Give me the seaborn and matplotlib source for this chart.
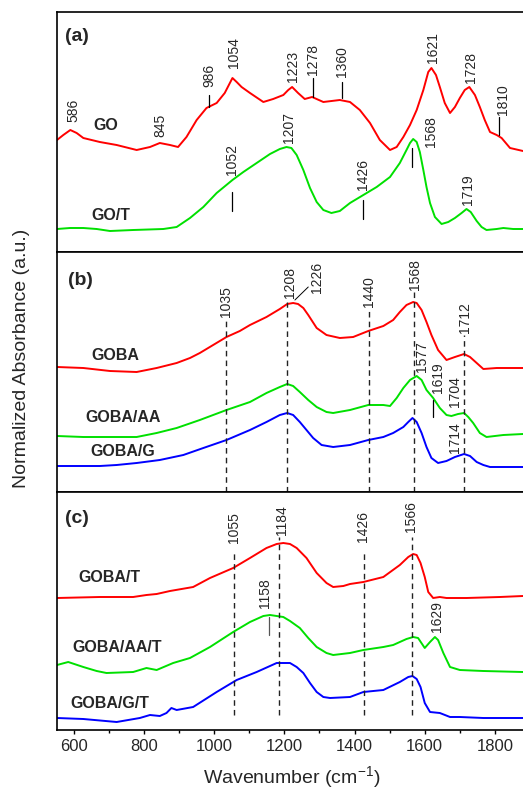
import matplotlib
matplotlib.use("Agg")
import matplotlib.pyplot as plt
import seaborn as sns
import pandas as pd

# ---------------- data (wavenumber, absorbance a.u., already stacked) ----------------
go_wn = [552, 570, 590, 608, 627, 674, 722, 779, 817, 845, 874, 897, 921, 950, 978, 1007, 1030, 1052,
         1064, 1078, 1102, 1140, 1168, 1197, 1211, 1222, 1239, 1258, 1279, 1311, 1358, 1387, 1415, 1444,
         1472, 1501, 1520, 1539, 1558, 1577, 1596, 1610, 1619, 1632, 1643, 1657, 1672, 1686, 1700, 1714,
         1727, 1743, 1757, 1771, 1786, 1805, 1819, 1843, 1880]
go_ab = [1.12, 1.17, 1.22, 1.19, 1.14, 1.10, 1.07, 1.02, 1.05, 1.09, 1.07, 1.05, 1.15, 1.32, 1.44, 1.49,
         1.59, 1.74, 1.70, 1.65, 1.59, 1.50, 1.53, 1.57, 1.62, 1.65, 1.59, 1.53, 1.55, 1.50, 1.52, 1.50,
         1.42, 1.29, 1.12, 1.02, 1.05, 1.15, 1.27, 1.42, 1.62, 1.80, 1.84, 1.77, 1.65, 1.49, 1.39, 1.45,
         1.54, 1.62, 1.65, 1.57, 1.45, 1.32, 1.20, 1.17, 1.14, 1.04, 1.01]

got_wn = [552, 589, 627, 665, 703, 769, 855, 893, 931, 969, 1007, 1052, 1083, 1121, 1159, 1187, 1206,
          1220, 1235, 1254, 1273, 1292, 1311, 1334, 1358, 1387, 1425, 1463, 1501, 1529, 1548, 1558, 1567,
          1577, 1586, 1596, 1605, 1615, 1629, 1648, 1667, 1686, 1705, 1719, 1731, 1748, 1762, 1776, 1805,
          1824, 1852, 1880]
got_ab = [0.23, 0.24, 0.24, 0.23, 0.21, 0.22, 0.23, 0.25, 0.34, 0.45, 0.59, 0.72, 0.80, 0.89, 0.98, 1.03,
          1.05, 1.04, 0.97, 0.82, 0.64, 0.50, 0.42, 0.39, 0.41, 0.49, 0.57, 0.65, 0.75, 0.89, 1.02, 1.09,
          1.13, 1.10, 1.00, 0.82, 0.65, 0.49, 0.35, 0.28, 0.30, 0.34, 0.39, 0.43, 0.40, 0.31, 0.25, 0.22,
          0.23, 0.24, 0.23, 0.23]

goba_wn = [552, 627, 703, 779, 836, 893, 931, 959, 997, 1035, 1073, 1102, 1149, 1187, 1208, 1225, 1239,
           1254, 1268, 1292, 1320, 1358, 1396, 1439, 1482, 1510, 1529, 1548, 1567, 1577, 1591, 1605, 1619,
           1638, 1662, 1686, 1712, 1729, 1748, 1767, 1805, 1843, 1880]
goba_ab = [1.25, 1.24, 1.21, 1.20, 1.24, 1.29, 1.34, 1.39, 1.47, 1.55, 1.61, 1.67, 1.75, 1.83, 1.88, 1.89,
           1.88, 1.84, 1.77, 1.64, 1.57, 1.54, 1.55, 1.61, 1.66, 1.72, 1.80, 1.87, 1.90, 1.89, 1.82, 1.70,
           1.57, 1.42, 1.32, 1.35, 1.38, 1.35, 1.29, 1.23, 1.24, 1.24, 1.24]

gobaaa_wn = [552, 627, 703, 779, 836, 893, 959, 1035, 1102, 1149, 1187, 1208, 1225, 1244, 1268, 1292,
             1320, 1339, 1387, 1439, 1482, 1501, 1520, 1539, 1558, 1577, 1591, 1605, 1624, 1643, 1662,
             1676, 1695, 1712, 1724, 1738, 1757, 1776, 1824, 1880]
gobaaa_ab = [0.56, 0.55, 0.55, 0.55, 0.59, 0.64, 0.72, 0.82, 0.90, 0.99, 1.05, 1.08, 1.06, 1.00, 0.92,
             0.85, 0.80, 0.79, 0.82, 0.87, 0.87, 0.86, 0.94, 1.04, 1.12, 1.16, 1.12, 1.02, 0.94, 0.84,
             0.77, 0.76, 0.78, 0.79, 0.75, 0.69, 0.59, 0.55, 0.57, 0.58]

gobag_wn = [552, 627, 674, 722, 779, 845, 912, 969, 1035, 1102, 1149, 1187, 1208, 1225, 1244, 1263, 1282,
            1306, 1339, 1387, 1439, 1482, 1510, 1539, 1553, 1565, 1577, 1591, 1605, 1619, 1638, 1662,
            1686, 1712, 1729, 1748, 1767, 1786, 1843, 1880]
gobag_ab = [0.26, 0.26, 0.26, 0.27, 0.29, 0.32, 0.37, 0.44, 0.52, 0.62, 0.70, 0.77, 0.79, 0.77, 0.70,
            0.62, 0.54, 0.47, 0.45, 0.47, 0.52, 0.55, 0.59, 0.65, 0.70, 0.74, 0.70, 0.59, 0.45, 0.34,
            0.29, 0.31, 0.35, 0.38, 0.36, 0.30, 0.27, 0.25, 0.25, 0.25]

gobat_wn = [552, 674, 769, 807, 836, 874, 940, 988, 1054, 1102, 1149, 1178, 1197, 1216, 1235, 1263, 1292,
            1320, 1339, 1368, 1387, 1425, 1482, 1529, 1553, 1567, 1577, 1588, 1600, 1610, 1624, 1643,
            1662, 1719, 1814, 1880]
gobat_ab = [1.32, 1.33, 1.33, 1.35, 1.36, 1.39, 1.43, 1.52, 1.62, 1.72, 1.82, 1.86, 1.87, 1.86, 1.82,
            1.72, 1.57, 1.47, 1.43, 1.44, 1.46, 1.48, 1.53, 1.65, 1.73, 1.76, 1.75, 1.67, 1.53, 1.38,
            1.32, 1.33, 1.32, 1.32, 1.33, 1.34]

gobaaat_wn = [552, 584, 627, 665, 693, 769, 807, 836, 883, 931, 988, 1054, 1102, 1140, 1159, 1197, 1216,
              1244, 1268, 1292, 1320, 1339, 1387, 1425, 1482, 1510, 1548, 1567, 1581, 1600, 1615, 1629,
              1638, 1653, 1672, 1700, 1767, 1880]
gobaaat_ab = [0.65, 0.68, 0.63, 0.59, 0.57, 0.58, 0.62, 0.60, 0.67, 0.72, 0.83, 0.98, 1.08, 1.14, 1.15,
              1.13, 1.09, 1.02, 0.92, 0.83, 0.77, 0.75, 0.77, 0.80, 0.83, 0.85, 0.91, 0.93, 0.92, 0.82,
              0.88, 0.93, 0.90, 0.77, 0.63, 0.60, 0.59, 0.58]

gobagt_wn = [552, 627, 722, 788, 817, 845, 864, 878, 893, 940, 1007, 1064, 1121, 1178, 1216, 1235, 1254,
             1273, 1292, 1311, 1330, 1387, 1425, 1482, 1529, 1553, 1565, 1577, 1588, 1600, 1615, 1643,
             1672, 1700, 1767, 1880]
gobagt_ab = [0.12, 0.11, 0.08, 0.12, 0.15, 0.14, 0.17, 0.22, 0.20, 0.23, 0.38, 0.50, 0.58, 0.67, 0.67,
             0.63, 0.57, 0.47, 0.38, 0.33, 0.32, 0.33, 0.38, 0.40, 0.48, 0.53, 0.54, 0.51, 0.43, 0.27,
             0.18, 0.17, 0.13, 0.13, 0.12, 0.12]

# sample names
names_a = ["GO", "GO/T"]
names_b = ["GOBA", "GOBA/AA", "GOBA/G"]
names_c = ["GOBA/T", "GOBA/AA/T", "GOBA/G/T"]

xticks = [600, 800, 1000, 1200, 1400, 1600, 1800]

# peak annotations: (label, x of text, y of text bottom, line x, line y0, line y1)
peaks_a = [("586", 598, 1.30, None, None, None),
           ("845", 848, 1.15, None, None, None),
           ("986", 986, 1.65, 986, 1.57, 1.45),
           ("1054", 1057, 1.84, None, None, None),
           ("1223", 1225, 1.70, None, None, None),
           ("1278", 1282, 1.77, 1282, 1.74, 1.55),
           ("1360", 1363, 1.75, 1363, 1.70, 1.54),
           ("1621", 1624, 1.89, None, None, None),
           ("1728", 1731, 1.69, None, None, None),
           ("1810", 1822, 1.37, 1812, 1.35, 1.17),
           ("1207", 1214, 1.09, None, None, None),
           ("1052", 1052, 0.77, 1052, 0.60, 0.41),
           ("1426", 1425, 0.62, 1425, 0.52, 0.33),
           ("1568", 1617, 1.05, 1565, 1.04, 0.85),
           ("1719", 1724, 0.47, None, None, None)]

peaks_b = [("1035", 1035, 1.75), ("1208", 1215, 1.94), ("1226", 1292, 1.99), ("1440", 1442, 1.85),
           ("1568", 1572, 2.02), ("1712", 1714, 1.59), ("1577", 1591, 1.20), ("1619", 1638, 0.99),
           ("1704", 1686, 0.85), ("1714", 1686, 0.39)]
dashes_b = [(1035, 1.75), (1208, 1.90), (1440, 1.84), (1568, 2.01), (1712, 1.57)]

peaks_c = [("1055", 1056, 1.87), ("1184", 1192, 1.95), ("1426", 1425, 1.88), ("1566", 1562, 1.98),
           ("1158", 1144, 1.22), ("1629", 1634, 0.98)]
dashes_c = [(1056, 1.78), (1185, 1.93), (1426, 1.80), (1565, 1.93)]

# ---------------- style ----------------
sns.set_theme(style="ticks")
plt.rcParams["font.family"] = ["Liberation Sans", "DejaVu Sans"]
plt.rcParams["mathtext.fontset"] = "custom"
plt.rcParams["mathtext.rm"] = "Liberation Sans"
plt.rcParams["mathtext.it"] = "Liberation Sans:italic"
plt.rcParams["mathtext.bf"] = "Liberation Sans:bold"

RED, GREEN, BLUE = "#ff0000", "#00e000", "#0000ff"
LW = 1.4
ANN = 10
SAMP = 11.5

fig = plt.figure(figsize=(5.23, 7.89), dpi=100)
L, W = 57 / 523, 1 - 57 / 523
ax_a = fig.add_axes([L, 1 - 252 / 789, W, 240 / 789])
ax_b = fig.add_axes([L, 1 - 492 / 789, W, 240 / 789])
ax_c = fig.add_axes([L, 1 - 730 / 789, W, 238 / 789])


def spec(ax, wn, ab, color):
    df = pd.DataFrame({"wn": wn, "ab": ab})
    sns.lineplot(data=df, x="wn", y="ab", ax=ax, color=color, lw=LW,
                 estimator=None, sort=False)


spec(ax_a, go_wn, go_ab, RED)
spec(ax_a, got_wn, got_ab, GREEN)
spec(ax_b, goba_wn, goba_ab, RED)
spec(ax_b, gobaaa_wn, gobaaa_ab, GREEN)
spec(ax_b, gobag_wn, gobag_ab, BLUE)
spec(ax_c, gobat_wn, gobat_ab, RED)
spec(ax_c, gobaaat_wn, gobaaat_ab, GREEN)
spec(ax_c, gobagt_wn, gobagt_ab, BLUE)

for ax, top in [(ax_a, 2.4), (ax_b, 2.4), (ax_c, 2.38)]:
    ax.set_xlim(552, 1880)
    ax.set_ylim(0, top)
    ax.set_yticks([])
    ax.set_xticks(xticks)
    ax.set_xticks(range(700, 1900, 200), minor=True)
    ax.tick_params(axis="x", which="major", direction="out", length=3.2, width=1.0,
                   color="black", labelsize=12, pad=3)
    ax.tick_params(axis="x", which="minor", direction="out", length=1.8, width=1.0,
                   color="black")
    ax.set_xlabel("")
    ax.set_ylabel("")
    ax.spines["right"].set_visible(False)
    for s in ["left", "top", "bottom"]:
        ax.spines[s].set_linewidth(1.2)
        ax.spines[s].set_color("black")
    ax.set_facecolor("white")

ax_a.tick_params(axis="x", labelbottom=False)
ax_b.tick_params(axis="x", labelbottom=False)

# ---- panel (a) annotations
for lab, tx, ty, lx, l0, l1 in peaks_a:
    ax_a.text(tx, ty, lab, rotation=90, ha="center", va="bottom", fontsize=ANN)
    if lx is not None:
        ax_a.plot([lx, lx], [l0, l1], color="black", lw=0.9)
ax_a.text(655, 1.26, names_a[0], fontsize=SAMP, fontweight="bold", va="center")
ax_a.text(650, 0.36, names_a[1], fontsize=SAMP, fontweight="bold", va="center")
ax_a.text(0.017, 0.90, "(a)", transform=ax_a.transAxes, fontsize=14, fontweight="bold", va="center")

# ---- panel (b)
for x, y1 in dashes_b:
    ax_b.plot([x, x], [0, y1], color="#222222", lw=1.0, ls=(0, (4, 3)))
for lab, tx, ty in peaks_b:
    ax_b.text(tx, ty, lab, rotation=90, ha="center", va="bottom", fontsize=ANN)
ax_b.plot([1230, 1268], [1.92, 2.05], color="black", lw=0.7)
ax_b.plot([1624, 1624], [0.92, 0.75], color="black", lw=0.9)
ax_b.text(650, 1.36, names_b[0], fontsize=SAMP, fontweight="bold", va="center")
ax_b.text(634, 0.74, names_b[1], fontsize=SAMP, fontweight="bold", va="center")
ax_b.text(646, 0.40, names_b[2], fontsize=SAMP, fontweight="bold", va="center")
ax_b.text(0.024, 0.88, "(b)", transform=ax_b.transAxes, fontsize=14, fontweight="bold", va="center")

# ---- panel (c)
for x, y1 in dashes_c:
    ax_c.plot([x, x], [0.15, y1], color="#222222", lw=1.0, ls=(0, (4, 3)))
for lab, tx, ty in peaks_c:
    ax_c.text(tx, ty, lab, rotation=90, ha="center", va="bottom", fontsize=ANN)
ax_c.plot([1157, 1157], [1.13, 0.95], color="#555555", lw=0.9)
ax_c.text(612, 1.52, names_c[0], fontsize=SAMP, fontweight="bold", va="center")
ax_c.text(596, 0.82, names_c[1], fontsize=SAMP, fontweight="bold", va="center")
ax_c.text(590, 0.27, names_c[2], fontsize=SAMP, fontweight="bold", va="center")
ax_c.text(0.017, 0.89, "(c)", transform=ax_c.transAxes, fontsize=14, fontweight="bold", va="center")

fig.text(292 / 523, 1 - 777 / 789, r"Wavenumber (cm$^{-1}$)", ha="center", va="center", fontsize=14)
fig.text(22 / 523, 1 - 358 / 789, "Normalized Absorbance (a.u.)", rotation=90,
         ha="center", va="center", fontsize=14)

fig.savefig("out.png", dpi=100, facecolor="white")
